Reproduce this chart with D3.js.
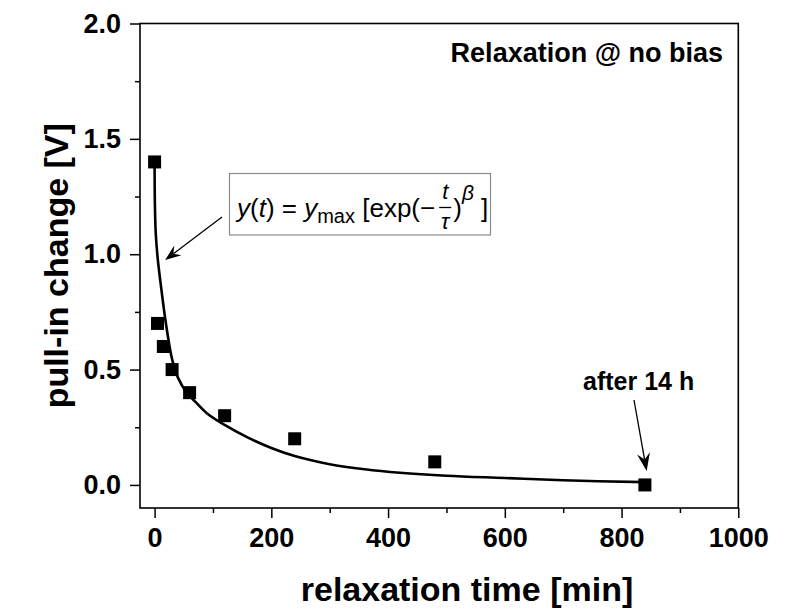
<!DOCTYPE html>
<html>
<head>
<meta charset="utf-8">
<script src="https://cdn.jsdelivr.net/npm/d3@7"></script>
<style>
  html, body { margin: 0; padding: 0; background: #fff; }
  svg { display: block; }
</style>
</head>
<body>
<div id="chart"></div>
<script>
// measured points: relaxation time [min] vs pull-in change [V]
const times = [0, 5, 15, 30, 60, 120, 240, 480, 840]
const pullIn = [1.4, 0.7, 0.6, 0.5, 0.4, 0.3, 0.2, 0.1, 0.0]

// fitted curve
const fitT = [0, 0.5, 2, 5, 10, 15, 20, 30, 40, 55, 70, 90, 120, 160, 200, 240, 300, 360, 420, 500, 600, 700, 840]
const fitY = [1.40, 1.22, 1.09, 0.99, 0.88, 0.78, 0.69, 0.545, 0.465, 0.40, 0.36, 0.31, 0.26, 0.205, 0.16, 0.125, 0.09, 0.068, 0.053, 0.040, 0.030, 0.020, 0.012]

const xMajor = [0, 200, 400, 600, 800, 1000]
const xMinor = [100, 300, 500, 700, 900]
const yMajor = [0, 0.5, 1.0, 1.5, 2.0]
const yMinor = [0.25, 0.75, 1.25, 1.75]

const W = 787, H = 611
const FONT = '"Liberation Sans", Arial, Helvetica, sans-serif'

const svg = d3.select('#chart').append('svg').attr('width', W).attr('height', H)
  .style('font-family', FONT)

const x = d3.scaleLinear().domain([-25, 1000]).range([140, 738.3])
const y = d3.scaleLinear().domain([-0.1, 2.0]).range([508, 23.5])

// ticks
function styleAxis(g) {
  g.select('.domain').remove()
  g.selectAll('line').attr('stroke', '#000').attr('stroke-width', 1.5)
  g.selectAll('text').attr('font-family', FONT).attr('font-size', 27)
    .attr('font-weight', 'bold').attr('fill', '#000')
}

svg.append('g').attr('transform', `translate(0,${y(-0.1)})`)
  .call(d3.axisBottom(x).tickValues(xMajor).tickSize(10).tickPadding(10).tickFormat(d3.format('d')))
  .call(styleAxis)
svg.append('g').attr('transform', `translate(0,${y(-0.1)})`)
  .call(d3.axisBottom(x).tickValues(xMinor).tickSize(5).tickFormat(''))
  .call(styleAxis)

svg.append('g').attr('transform', `translate(${x(-25)},0)`)
  .call(d3.axisLeft(y).tickValues(yMajor).tickSize(10).tickPadding(9).tickFormat(d3.format('.1f')))
  .call(styleAxis)
svg.append('g').attr('transform', `translate(${x(-25)},0)`)
  .call(d3.axisLeft(y).tickValues(yMinor).tickSize(5).tickFormat(''))
  .call(styleAxis)

// frame
svg.append('rect')
  .attr('x', x(-25)).attr('y', y(2.0))
  .attr('width', x(1000) - x(-25)).attr('height', y(-0.1) - y(2.0))
  .attr('fill', 'none').attr('stroke', '#000').attr('stroke-width', 1.6)

// fit line
const line = d3.line().x((d, i) => x(fitT[i])).y(d => y(d)).curve(d3.curveCatmullRom.alpha(0.5))
svg.append('path').datum(fitY)
  .attr('fill', 'none').attr('stroke', '#000').attr('stroke-width', 2.6)
  .attr('d', line)

// squares
const S = 13
svg.selectAll('.pt').data(pullIn).join('rect')
  .attr('class', 'pt')
  .attr('x', (d, i) => x(times[i]) - S / 2)
  .attr('y', d => y(d) - S / 2)
  .attr('width', S).attr('height', S)
  .attr('fill', '#000')

// axis titles
svg.append('text')
  .attr('x', 467).attr('y', 601)
  .attr('text-anchor', 'middle').attr('font-size', 34).attr('font-weight', 'bold')
  .text('relaxation time [min]')

svg.append('text')
  .attr('transform', `translate(68,${(y(2.0) + y(-0.1)) / 2}) rotate(-90)`)
  .attr('text-anchor', 'middle').attr('font-size', 34).attr('font-weight', 'bold')
  .text('pull-in change [V]')

// annotations
svg.append('text')
  .attr('x', 723).attr('y', 62)
  .attr('text-anchor', 'end').attr('font-size', 27).attr('font-weight', 'bold')
  .text('Relaxation @ no bias')

svg.append('text')
  .attr('x', 583).attr('y', 390)
  .attr('font-size', 25).attr('font-weight', 'bold')
  .text('after 14 h')

function arrow(x1, y1, x2, y2, len, half, sw) {
  const a = Math.atan2(y2 - y1, x2 - x1)
  const bx = x2 - len * Math.cos(a), by = y2 - len * Math.sin(a)
  const nx = -Math.sin(a), ny = Math.cos(a)
  const notch = len * 0.65
  const cx = x2 - notch * Math.cos(a), cy = y2 - notch * Math.sin(a)
  svg.append('line')
    .attr('x1', x1).attr('y1', y1).attr('x2', cx).attr('y2', cy)
    .attr('stroke', '#000').attr('stroke-width', sw)
  svg.append('path')
    .attr('d', `M${x2},${y2}L${bx + nx * half},${by + ny * half}L${cx},${cy}L${bx - nx * half},${by - ny * half}Z`)
    .attr('fill', '#000')
}

arrow(634, 400, x(843), y(0.06), 18, 6.5, 1.3)
arrow(222, 217, x(18), y(0.975), 16, 6, 1.3)

// formula box
svg.append('rect')
  .attr('x', 229.5).attr('y', 173.5).attr('width', 261).attr('height', 61.5)
  .attr('fill', '#fff').attr('stroke', '#8a8a8a').attr('stroke-width', 1.2)

const f = svg.append('g').attr('font-size', 26).attr('fill', '#000')
const t1 = f.append('text').attr('x', 237).attr('y', 217)
t1.append('tspan').attr('font-style', 'italic').text('y')
t1.append('tspan').text('(')
t1.append('tspan').attr('font-style', 'italic').text('t')
t1.append('tspan').text(') = ')
t1.append('tspan').attr('font-style', 'italic').text('y')
t1.append('tspan').attr('font-size', 20).attr('dy', 6).text('max')
t1.append('tspan').attr('dy', -6).text(' [exp(\u2212')
const e1 = t1.node().getBBox()
const fx = e1.x + e1.width + 4
f.append('text').attr('x', fx + 6).attr('y', 199).attr('text-anchor', 'middle')
  .attr('font-size', 22).attr('font-style', 'italic').text('t')
f.append('line').attr('x1', fx).attr('x2', fx + 12).attr('y1', 207.5).attr('y2', 207.5)
  .attr('stroke', '#000').attr('stroke-width', 1.3)
f.append('text').attr('x', fx + 6).attr('y', 229).attr('text-anchor', 'middle')
  .attr('font-size', 22).attr('font-style', 'italic').text('\u03c4')
const t2 = f.append('text').attr('x', fx + 14).attr('y', 217)
t2.append('tspan').text(')')
t2.append('tspan').attr('font-size', 21).attr('font-style', 'italic').attr('dy', -17).text('\u03b2')
t2.append('tspan').attr('dy', 17).text(' ]')
</script>
</body>
</html>
